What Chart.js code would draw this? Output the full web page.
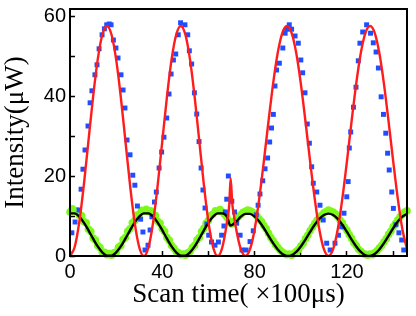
<!DOCTYPE html>
<html>
<head>
<meta charset="utf-8">
<script src="https://cdn.jsdelivr.net/npm/chart.js@4.4.1/dist/chart.umd.min.js"></script>
<style>
    html, body { margin: 0; padding: 0; background: #fff; }
    #wrap { width: 416px; height: 316px; }
</style>
</head>
<body>
<div id="wrap"><canvas id="scanChart" width="416" height="316"></canvas></div>
<script>
// Measured intensity (blue squares)
const blueX = [0.8, 2.2, 3.9, 4.8, 5.6, 6.5, 7.8, 8.7, 9.5, 10.8, 11.7, 12.6, 13.9, 14.9, 15.9, 17, 17.8, 18.8, 19.9, 20.8,
    22.1, 23, 23.8, 24.7, 26, 27.2, 28.1, 29.2, 30.6, 31.6, 32.5, 33.8, 34.7, 35.5, 36.6, 37.4, 38.6, 39.7, 40.7, 41.9,
    42.9, 43.8, 44.8, 45.8, 46.9, 47.9, 49.8, 51, 51.7, 52.7, 53.9, 54.9, 55.9, 56.8, 57.6, 58.5, 59.3, 60.1, 61.3, 62.8,
    64.3, 65.7, 66.7, 67.3, 67.9, 68.6, 70.1, 71.3, 72.2, 73.7, 74.5, 76.3, 78, 79.4, 80.7, 81.5, 82.3, 83.5, 84.5, 85.6,
    86.5, 87.3, 88.1, 88.8, 89.5, 90.7, 92.2, 93.2, 93.9, 95, 96, 97.5, 98.9, 100, 100.8, 101.8, 102.8, 103.7, 104.7, 105.4,
    106.9, 108.3, 109.7, 111.2, 112.7, 114.8, 116.3, 117.7, 118.7, 119.9, 120.5, 121, 121.6, 122.8, 123.9, 124.9, 125.6, 126.8, 128.5, 130.2,
    131.4, 132.6, 133.6, 134.8, 135.8, 136.8, 137.6, 138.3, 139.4, 140.1, 141.2, 142.5, 143.7, 144.6];
const blueY = [5.8, 8.5, 11.5, 16.7, 21.7, 26.5, 32.5, 38.3, 41.3, 45.3, 47.8, 51.8, 55.3, 56.8, 57.8, 58, 57.8, 54, 52, 49.5,
    45.3, 41.5, 37, 29, 25.3, 20.2, 17.7, 12.5, 9.2, 6, 1.5, 2.7, 6.5, 9.8, 13.5, 16, 22, 26, 29.7, 34.5,
    40.5, 45.5, 49, 50.5, 55.3, 58.3, 57.8, 55.3, 51.3, 48, 40.8, 35.5, 28.6, 22, 16.5, 12, 8, 5.2, 3.5, 2.7,
    3.5, 5.2, 7.5, 11, 14.2, 20, 13.7, 11, 8.2, 5.2, 1.5, 1.5, 3.6, 6.3, 10.3, 12.7, 15.5, 18.8, 21.8, 24.5,
    28.5, 32, 35.4, 42.5, 46.5, 48.2, 52, 55.7, 56.7, 57.8, 56.7, 55, 53.2, 49, 45.8, 40.8, 33, 28.2, 22.3, 18.2,
    16, 12.7, 9, 3.2, 1.5, 3.2, 5.2, 7.3, 10.7, 14.8, 18.6, 27, 31, 37.2, 42.2, 48.8, 53.2, 56, 57.8, 55.7,
    53.3, 51, 47, 39.8, 35.4, 30.7, 25.7, 21.5, 16, 11.9, 7.8, 5.8, 4, 1.5];

// Fit to the measured intensity (red line)
const redX = [0, 2, 4, 6, 8, 10, 12, 14, 16, 18, 20, 22, 24, 26, 28, 30, 32, 34, 36, 38,
    40, 42, 44, 46, 48, 50, 52, 54, 56, 58, 60, 62, 64, 66, 68, 69, 69.6, 70.3, 71, 72,
    74, 76, 78, 80, 82, 84, 86, 88, 90, 92, 94, 96, 98, 100, 102, 104, 106, 108, 110, 112,
    114, 116, 118, 120, 122, 124, 126, 128, 130, 132, 134, 136, 138, 140, 142, 144, 146];
const redY = [0, 2.2, 8.4, 17.8, 28.8, 39.8, 49.1, 55.3, 57.5, 55.3, 49.1, 39.8, 28.8, 17.8, 8.4, 2.2, 0, 2.2, 8.4, 17.8,
    28.8, 39.8, 49.1, 55.3, 57.5, 55.3, 49.1, 39.8, 28.8, 17.8, 8.4, 2.2, 0, 2.2, 8.4, 12.8, 19.5, 13.1, 10.3, 6.7,
    1.7, 0, 1.7, 6.7, 14.4, 23.8, 33.7, 43.1, 50.8, 55.8, 57.5, 55.8, 50.8, 43.1, 33.7, 23.8, 14.4, 6.7, 1.7, 0,
    1.7, 6.7, 14.4, 23.8, 33.7, 43.1, 50.8, 55.8, 57.5, 55.8, 50.8, 43.1, 33.7, 23.8, 14.4, 6.7, 1.7];

// Reference signal, one reading per time step starting at 0 (green dots)
const greenY = [11.0, 11.8, 11.2, 11.3, 10.2, 10.1, 8.6, 8.3, 6.7, 6.1, 4.5, 4.0, 2.6, 2.1, 1.0, 0.9, 0.3, 0.6, 0.2, 0.8,
    1.0, 2.2, 2.6, 4.1, 4.6, 6.2, 6.8, 8.3, 8.8, 10.2, 10.4, 11.4, 11.2, 11.7, 11.1, 11.3, 10.3, 10.1, 8.7, 8.2,
    6.8, 6.1, 4.6, 3.9, 2.6, 2.0, 1.1, 0.8, 0.3, 0.5, 0.2, 0.8, 1.1, 2.1, 2.7, 4.0, 4.6, 6.1, 6.9, 8.2,
    8.9, 10.1, 10.5, 11.3, 11.2, 11.6, 11.0, 10.4, 9.6, 8.6, 8.0, 8.6, 9.2, 9.8, 10.3, 10.9, 11.2, 11.5, 11.3, 11.0,
    10.6, 10.0, 9.2, 8.6, 7.6, 6.8, 5.7, 4.6, 3.8, 2.9, 2.2, 1.5, 1.0, 0.6, 0.3, 0.5, 0.2, 0.6, 1.1, 1.6,
    2.5, 3.2, 4.3, 5.2, 6.3, 7.2, 8.1, 8.9, 9.7, 10.2, 10.8, 11.1, 11.5, 11.2, 11.0, 10.5, 9.9, 9.0, 8.3, 7.2,
    6.4, 5.3, 4.4, 3.3, 2.6, 1.7, 1.2, 0.6, 0.4, 0.2, 0.5, 0.3, 0.8, 1.3, 2.0, 2.6, 3.5, 4.3, 5.4, 6.2,
    7.3, 8.1, 9.0, 9.8, 10.4, 11.0, 11.3];

// Fit to the reference signal (black line)
const blackX = [0, 2, 4, 6, 8, 10, 12, 14, 16, 18, 20, 22, 24, 26, 28, 30, 32, 34, 36, 38,
    40, 42, 44, 46, 48, 50, 52, 54, 56, 58, 60, 62, 64, 66, 68, 69.5, 72, 74, 76, 78,
    80, 82, 84, 86, 88, 90, 92, 94, 96, 98, 100, 102, 104, 106, 108, 110, 112, 114, 116, 118,
    120, 122, 124, 126, 128, 130, 132, 134, 136, 138, 140, 142, 144, 146];
const blackY = [10.65, 10.65, 9.84, 8.36, 6.42, 4.33, 2.39, 0.91, 0.1, 0.1, 0.91, 2.39, 4.33, 6.42, 8.36, 9.84, 10.65, 10.65, 9.84, 8.36,
    6.42, 4.33, 2.39, 0.91, 0.1, 0.1, 0.91, 2.39, 4.33, 6.42, 8.36, 9.84, 10.65, 10.65, 9.84, 7.6, 8.6, 9.85, 10.52, 10.52,
    9.85, 8.6, 6.94, 5.06, 3.22, 1.64, 0.52, 0.02, 0.19, 1.01, 2.38, 4.12, 6.02, 7.81, 9.29, 10.26, 10.6, 10.26, 9.29, 7.81,
    6.02, 4.12, 2.38, 1.01, 0.19, 0.02, 0.52, 1.64, 3.22, 5.06, 6.94, 8.6, 9.85, 10.52];

// Axis ranges and ticks
const xMin = 0, xMax = 146, xStep = 20, xLabelEvery = 40;
const yMin = 0, yMax = 61.75, yStep = 10, yLabelEvery = 20;

const toPoints = (xs, ys) => ys.map((y, i) => ({ x: xs[i], y: y }));
const greenX = greenY.map((_, i) => i);

// Closed box round the plot area
const frame = {
    id: 'frame',
    afterDatasetsDraw(chart) {
        const { ctx, chartArea: a } = chart;
        ctx.save();
        ctx.strokeStyle = '#000';
        ctx.lineWidth = 2;
        ctx.strokeRect(a.left, a.top, a.right - a.left, a.bottom - a.top);
        ctx.restore();
    }
};

const tickFont = { family: "'Liberation Sans', Arial, sans-serif", size: 20 };
const titleFont = { family: "'Liberation Serif', 'Times New Roman', serif", size: 27 };

new Chart(document.getElementById('scanChart').getContext('2d'), {
    type: 'scatter',
    data: {
        datasets: [
            {
                data: toPoints(redX, redY),
                showLine: true,
                borderColor: '#ff1c1c',
                borderWidth: 2.4,
                pointRadius: 0,
                cubicInterpolationMode: 'monotone'
            },
            {
                data: toPoints(blackX, blackY),
                showLine: true,
                borderColor: '#000',
                borderWidth: 2.4,
                pointRadius: 0,
                cubicInterpolationMode: 'monotone'
            },
            {
                data: toPoints(blueX, blueY),
                pointStyle: 'rect',
                pointRadius: 3.5,
                pointBorderWidth: 0,
                backgroundColor: '#1f4dff',
                clip: 6
            },
            {
                data: toPoints(greenX, greenY),
                pointRadius: 3.8,
                pointBorderWidth: 0,
                backgroundColor: '#7cf81a',
                clip: 6
            }
        ]
    },
    options: {
        responsive: false,
        animation: false,
        events: [],
        layout: { padding: { left: 0, right: 9, top: 9, bottom: 0 } },
        plugins: { legend: { display: false }, tooltip: { enabled: false } },
        scales: {
            x: {
                type: 'linear',
                min: xMin,
                max: xMax,
                border: { display: false },
                grid: { drawOnChartArea: false, tickLength: -5, tickColor: '#000', tickWidth: 1.5 },
                ticks: {
                    stepSize: xStep,
                    includeBounds: false,
                    maxRotation: 0,
                    padding: 9,
                    color: '#000',
                    font: tickFont,
                    callback: v => (v % xLabelEvery === 0 ? v : '')
                },
                title: { display: true, text: 'Scan time( ×100μs)', color: '#000', font: titleFont, padding: { top: 0, bottom: 5 } },
                afterFit: s => { s.height = 60; s.paddingLeft = 0; s.paddingRight = 0; }
            },
            y: {
                min: yMin,
                max: yMax,
                border: { display: false },
                grid: { drawOnChartArea: false, tickLength: -5, tickColor: '#000', tickWidth: 1.5 },
                ticks: {
                    stepSize: yStep,
                    includeBounds: false,
                    padding: 9,
                    color: '#000',
                    font: tickFont,
                    callback: v => (v % yLabelEvery === 0 ? v : '')
                },
                title: { display: true, text: 'Intensity(μW)', color: '#000', font: titleFont, padding: 0 },
                afterFit: s => { s.width = 70; s.paddingTop = 0; s.paddingBottom = 0; }
            }
        }
    },
    plugins: [frame]
});
</script>
</body>
</html>
